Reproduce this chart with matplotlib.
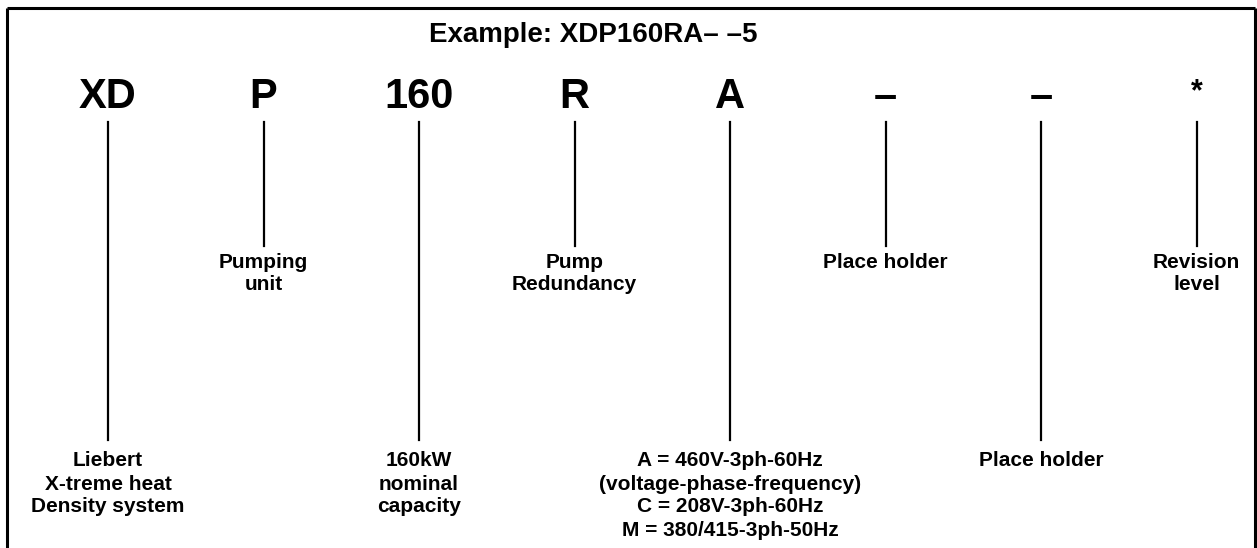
import matplotlib
matplotlib.use("Agg")
import matplotlib.pyplot as plt

plt.rcParams['font.family'] = ['Liberation Sans', 'DejaVu Sans']

title = "Example: XDP160RA\u2013 \u20135"
codes = ["XD", "P", "160", "R", "A", "\u2013", "\u2013", "*"]
# which level each description sits at: 'low' = bottom row, 'mid' = middle row
levels = ["low", "mid", "low", "mid", "low", "mid", "low", "mid"]
descriptions = [
    ["Liebert", "X-treme heat", "Density system"],
    ["Pumping", "unit"],
    ["160kW", "nominal", "capacity"],
    ["Pump", "Redundancy"],
    ["A = 460V-3ph-60Hz", "(voltage-phase-frequency)", "C = 208V-3ph-60Hz", "M = 380/415-3ph-50Hz"],
    ["Place holder"],
    ["Place holder"],
    ["Revision", "level"],
]

W, H = 1257, 548
fig = plt.figure(figsize=(W / 100, H / 100), dpi=100)
ax = fig.add_axes([0, 0, 1, 1])
ax.set_xlim(0, W)
ax.set_ylim(H, 0)
ax.axis('off')

# frame (open at the bottom)
ax.plot([7, 7], [H + 5, 8], color='black', lw=2.2, solid_capstyle='butt')
ax.plot([7, 1255], [8, 8], color='black', lw=2.2, solid_capstyle='butt')
ax.plot([1255, 1255], [8, H + 5], color='black', lw=2.2, solid_capstyle='butt')

ax.text(593, 35, title, ha='center', va='center', fontsize=20, fontweight='bold')

x0, dx = 108, 155.5
line_top = 122
line_end = {"mid": 246, "low": 440}
first_y = {"mid": 262, "low": 461}
spacing = 23

for i, (code, lev, desc) in enumerate(zip(codes, levels, descriptions)):
    x = x0 + i * dx
    if code == "*":
        ax.text(x, 92, code, ha='center', va='center', fontsize=22, fontweight='bold')
    else:
        ax.text(x, 97, code, ha='center', va='center', fontsize=30, fontweight='bold')
    ax.plot([x, x], [line_top, line_end[lev]], color='black', lw=1.6)
    for j, s in enumerate(desc):
        ax.text(x, first_y[lev] + j * spacing, s, ha='center', va='center',
                fontsize=15, fontweight='bold')

fig.savefig("out.png", dpi=100)
